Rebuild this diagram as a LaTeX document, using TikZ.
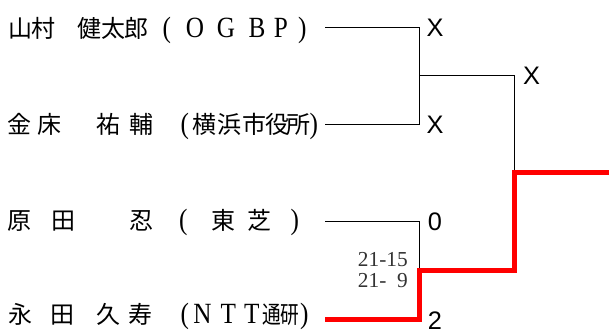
\documentclass[tikz,border=0pt]{standalone}
\usepackage{fontspec}
\setmainfont{Liberation Serif}
\newfontfamily\jpfont{Noto Sans CJK JP}
\newfontfamily\markfont{Liberation Sans}
\newlength\pxlen
\setlength\pxlen{0.75pt}
% one glyph, centred at x (pixels from the left edge of the picture)
\newcommand\putat[2]{\makebox[0pt][l]{\hspace*{#1\pxlen}\makebox[0pt][c]{#2}}}
\newcommand\kj[2]{\putat{#1}{\jpfont #2}}
\newcommand\lt[2]{\putat{#1}{\fontsize{22}{26}\selectfont\scalebox{0.86}[1]{#2}}}
\tikzset{
    namebox/.style={
        inner sep=0pt,            % glyphs placed by \kj / \lt
        anchor=base west,         % node sits on its baseline at x=0
        font=\fontsize{18}{22}\selectfont
    },
    markbox/.style={
        inner sep=0pt,
        font=\markfont\fontsize{19}{22}\selectfont
    },
    scorebox/.style={
        inner sep=0pt,
        anchor=base east,         % placed on its baseline
        text=black!80,
        font=\fontsize{16}{18}\selectfont
    },
    bracket/.style={
        draw=black,
        line width=0.75pt         % thin lines of the draw
    },
    winline/.style={
        draw=red,
        line width=3.75pt         % thick red line of the winner
    }
}
\begin{document}
\begin{tikzpicture}[x=0.75pt,y=-0.75pt]
    \useasboundingbox (0,0) rectangle (609,334);
    % entrants
    \node[namebox] (yamamura) at (0,38) {\kj{20}{山}\kj{42.5}{村}\kj{89}{健}\kj{112.5}{太}\kj{136}{郎}\lt{166}{(}\lt{194}{O}\lt{225}{G}\lt{256}{B}\lt{280}{P}\lt{301.5}{)}};
    \node[namebox] (kanatoko) at (0,134) {\kj{19}{金}\kj{49}{床}\kj{107.5}{祐}\kj{140.5}{輔}\lt{184}{(}\kj{204}{横}\kj{228.5}{浜}\kj{253.5}{市}\kj{277}{役}\kj{298}{所}\lt{313}{)}};
    \node[namebox] (harada) at (0,229.5) {\kj{19}{原}\kj{62.5}{田}\kj{140.5}{忍}\lt{182.5}{(}\kj{222.5}{東}\kj{258.5}{芝}\lt{294}{)}};
    \node[namebox] (nagata) at (0,323) {\kj{20}{永}\kj{61.5}{田}\kj{107.5}{久}\kj{140}{寿}\lt{184}{(}\lt{201.5}{N}\lt{227.5}{T}\lt{251}{T}\kj{271}{\scalebox{0.78}[1]{通}}\kj{289}{\scalebox{0.78}[1]{研}}\lt{303.5}{)}};

    % ends of the lines and meeting points
    \coordinate (e1) at (325,28);
    \coordinate (e2) at (325,125);
    \coordinate (e3) at (325,222);
    \coordinate (e4) at (325,319);
    \coordinate (semi1) at (419.5,76);
    \coordinate (semi2) at (419.5,270.5);
    \coordinate (final) at (514.5,173);
    \coordinate (champ) at (609,173);

    \draw[bracket] (e1) -| (semi1) |- (e2);
    \draw[bracket] (semi1) -| (final);
    \draw[bracket] (e3) -| (semi2);
    \draw[winline] (e4) -| (semi2) -| (final) -- (champ);

    % results
    \node[markbox] (res1) at (435,28) {X};
    \node[markbox] (res2) at (435,124.5) {X};
    \node[markbox] (res12) at (531.5,76) {X};
    \node[markbox] (res3) at (435,222) {0};
    \node[markbox] (res4) at (435,321) {2};
    \node[scorebox] (score1) at (408,267) {21-15};
    \node[scorebox] (score2) at (408,287) {21-\phantom{1}9};
\end{tikzpicture}
\end{document}
